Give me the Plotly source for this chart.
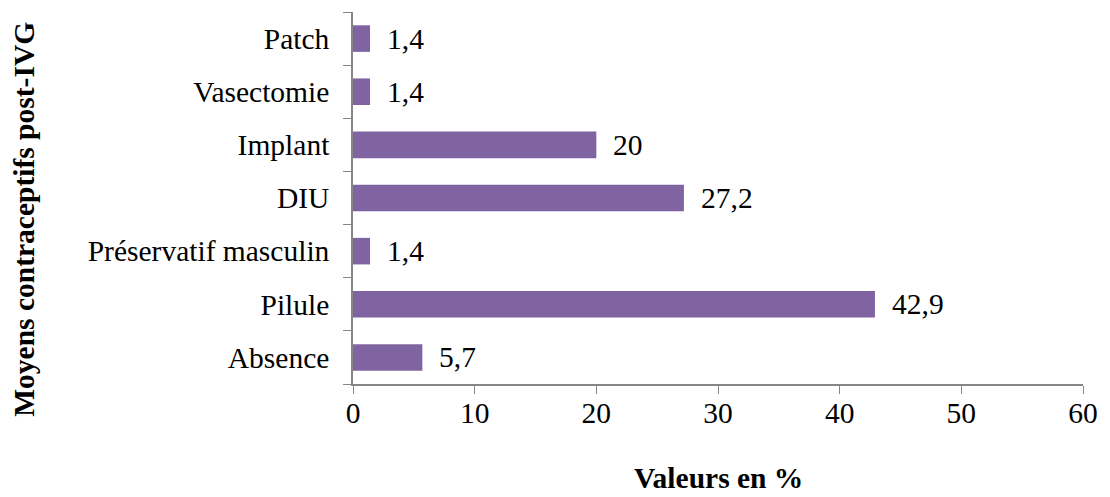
import plotly.graph_objects as go

categories = ["Absence", "Pilule", "Préservatif masculin", "DIU", "Implant", "Vasectomie", "Patch"]
values = [5.7, 42.9, 1.4, 27.2, 20, 1.4, 1.4]
x_ticks = [0, 10, 20, 30, 40, 50, 60]

labels = [f"{v:g}".replace(".", ",") for v in values]

FONT = "Liberation Serif, Times New Roman, serif"
AXIS = "#868686"
FS = 29.5

fig = go.Figure()
fig.add_trace(go.Bar(
    x=values, y=categories, orientation="h",
    marker=dict(color="#8064A2", line=dict(width=0)),
    hoverinfo="skip",
))

for v, c, t in zip(values, categories, labels):
    fig.add_annotation(x=v, y=c, text=t, showarrow=False, xanchor="left",
                       xshift=15, font=dict(family=FONT, size=FS, color="black"))

fig.add_annotation(text="<b>Valeurs en %</b>", xref="paper", yref="paper",
                   x=0.5, y=-0.301, xanchor="center", yanchor="bottom", showarrow=False,
                   font=dict(family=FONT, size=FS, color="black"))
fig.add_annotation(text="<b>Moyens contraceptifs post-IVG</b>", xref="paper", yref="paper",
                   x=-0.451, y=0.4435, xanchor="center", yanchor="middle", showarrow=False,
                   textangle=-90, font=dict(family=FONT, size=FS, color="black"))

fig.update_layout(
    width=1110, height=497,
    margin=dict(l=353, r=21, t=12, b=113),
    paper_bgcolor="white", plot_bgcolor="white",
    bargap=0.5, showlegend=False,
    font=dict(family=FONT, size=FS, color="black"),
    xaxis=dict(range=[0, 60], tickvals=x_ticks, ticks="outside", ticklen=8,
               tickcolor=AXIS, showline=True, linecolor=AXIS, linewidth=1.5,
               showgrid=False, zeroline=False, tickfont=dict(size=FS),
               ticklabelstandoff=-6),
    yaxis=dict(categoryorder="array", categoryarray=categories, ticks="outside",
               tickson="boundaries", ticklen=8, tickcolor=AXIS, showline=True,
               linecolor=AXIS, linewidth=1.5, showgrid=False, zeroline=False,
               tickfont=dict(size=FS), range=[-0.5, 6.5], ticklabelstandoff=16),
)

fig.write_html("out.html", config={"displayModeBar": False},
               post_script="document.body.style.margin='0';document.body.style.overflow='hidden';")
